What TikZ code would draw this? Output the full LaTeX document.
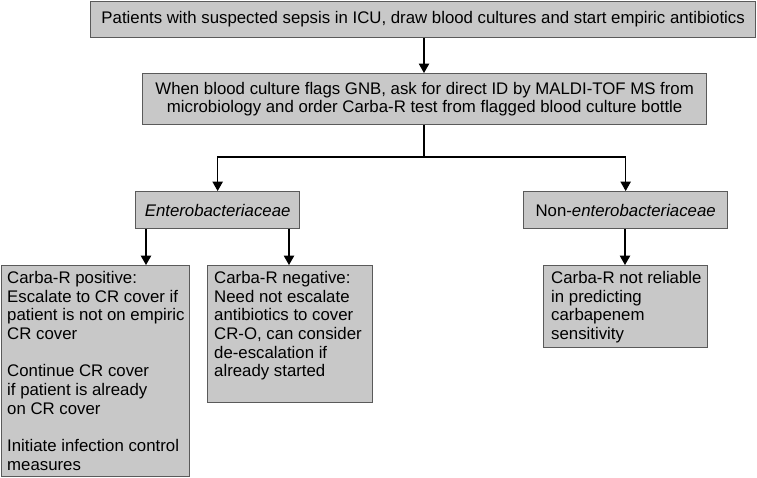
\documentclass[tikz,border=0pt]{standalone}
\usepackage{fontspec}
\setmainfont{Liberation Sans}
\usetikzlibrary{arrows.meta}
\definecolor{boxfill}{HTML}{C8C8C8}
\definecolor{boxline}{HTML}{5A5A5A}
\begin{document}
\begin{tikzpicture}[x=1pt,y=-1pt,
 box/.style={draw=boxline,fill=boxfill,line width=1.3pt,anchor=north west,inner sep=0pt,align=center,font=\fontsize{16.8}{17.5}\selectfont},
 txt/.style={anchor=north west,inner sep=0pt,align=left,font=\fontsize{16.8}{18.7}\selectfont},
 arr/.style={line width=1.1pt,-{Triangle[width=10.5pt,length=9.5pt]}},
 lin/.style={line width=1.1pt}]
\useasboundingbox (0,0) rectangle (757,477);
\node[box,minimum width=665pt,minimum height=36pt] (b1) at (90,1) {Patients with suspected sepsis in ICU, draw blood cultures and start empiric antibiotics};
\node[box,minimum width=564pt,minimum height=51pt] (b2) at (142,73) {When blood culture flags GNB, ask for direct ID by MALDI-TOF MS from\\microbiology and order Carba-R test from flagged blood culture bottle};
\node[box,minimum width=164pt,minimum height=37pt] (ent) at (135,191) {\textit{Enterobacteriaceae}};
\node[box,minimum width=204pt,minimum height=37pt] (non) at (523,191) {Non-\textit{enterobacteriaceae}};
\node[box,minimum width=188pt,minimum height=211pt] (pos) at (1,265) {};
\node[box,minimum width=165pt,minimum height=137pt] (neg) at (207,265) {};
\node[box,minimum width=164pt,minimum height=82pt] (nr) at (543,265) {};
\node[txt] (post) at ([xshift=6pt,yshift=-6pt]pos.north west) {Carba-R positive:\\Escalate to CR cover if\\patient is not on empiric\\CR cover\\[18.7pt]Continue CR cover\\if patient is already\\on CR cover\\[18.7pt]Initiate infection control\\measures};
\node[txt] (negt) at ([xshift=7pt,yshift=-6pt]neg.north west) {Carba-R negative:\\Need not escalate\\antibiotics to cover\\CR-O, can consider\\de-escalation if\\already started};
\node[txt] (nrt) at ([xshift=8pt,yshift=-6pt]nr.north west) {Carba-R not reliable\\in predicting\\carbapenem\\sensitivity};
\coordinate (split) at (424,157);
\coordinate (c1) at (146,0);
\coordinate (c2) at (289,0);
\coordinate (c3) at (625,0);
\draw[arr] (b1.south -| split) -- (b2.north -| split);
\draw[lin] (b2.south -| split) -- (split);
\draw[arr] (split) -| (ent.north);
\draw[arr] (split) -| (non.north);
\draw[arr] (ent.south -| c1) -- (pos.north -| c1);
\draw[arr] (ent.south -| c2) -- (neg.north -| c2);
\draw[arr] (non.south -| c3) -- (nr.north -| c3);
\end{tikzpicture}
\end{document}
